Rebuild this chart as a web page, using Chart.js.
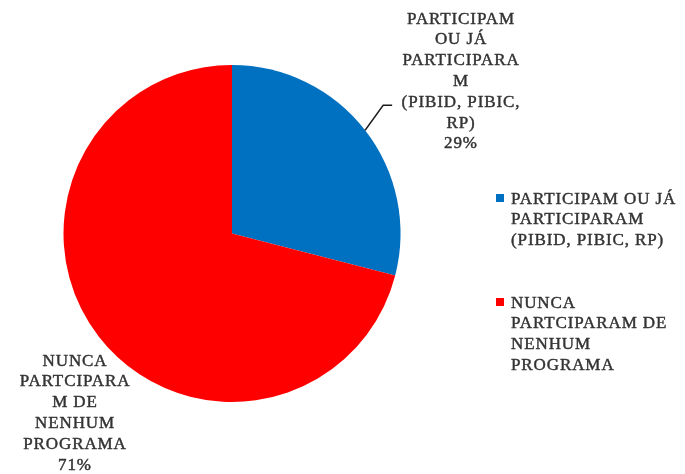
<!DOCTYPE html>
<html>
<head>
<meta charset="utf-8">
<script src="https://cdn.jsdelivr.net/npm/chart.js@4"></script>
<style>
  html, body { margin: 0; padding: 0; background: #fff; }
  #wrap { width: 685px; height: 474px; }
</style>
</head>
<body>
<div id="wrap"><canvas id="pieChart" width="685" height="474"></canvas></div>
<script>
// Participation in programs (PIBID, PIBIC, RP)
const categories = [
  "PARTICIPAM OU JÁ PARTICIPARAM (PIBID, PIBIC, RP)",
  "NUNCA PARTCIPARAM DE NENHUM PROGRAMA"
];
const percentages = [29, 71];
const sliceColors = ["#0070c0", "#ff0000"];

// line breaks used for the labels next to the slices
const sliceLabelLines = [
  ["PARTICIPAM", "OU JÁ", "PARTICIPARA", "M", "(PIBID, PIBIC,", "RP)"],
  ["NUNCA", "PARTCIPARA", "M DE", "NENHUM", "PROGRAMA"]
];
// line breaks used in the legend
const legendLines = [
  ["PARTICIPAM OU JÁ", "PARTICIPARAM", "(PIBID, PIBIC, RP)"],
  ["NUNCA", "PARTCIPARAM DE", "NENHUM", "PROGRAMA"]
];

const FONT = '17px "Liberation Serif", "Times New Roman", serif';
const TEXT_COLOR = "#333333";
const LINE_H = 20.8;

function setText(c) {
  c.font = FONT;
  c.fillStyle = TEXT_COLOR;
  c.strokeStyle = TEXT_COLOR;
  c.lineWidth = 0.45;
  c.textBaseline = "alphabetic";
  if ("letterSpacing" in c) c.letterSpacing = "0.9px";
}

// slightly heavier text, closer to the printed look
function drawText(c, t, x, y) {
  c.fillText(t, x, y);
  c.strokeText(t, x, y);
}

// labels outside the slices, with a leader line on the first one
const sliceLabels = {
  id: "sliceLabels",
  afterDatasetsDraw(chart, args, opts) {
    const c = chart.ctx;
    const meta = chart.getDatasetMeta(0);
    const values = chart.data.datasets[0].data;
    c.save();
    meta.data.forEach((arc, i) => {
      const pos = opts.positions[i];
      const lines = sliceLabelLines[i].concat([values[i] + "%"]);
      setText(c);
      c.textAlign = "center";
      lines.forEach((t, k) => {
        drawText(c, t, pos.x, pos.y + k * LINE_H + 5.5);
      });
      if (pos.leader) {
        const mid = (arc.startAngle + arc.endAngle) / 2;
        const sx = arc.x + Math.cos(mid) * arc.outerRadius;
        const sy = arc.y + Math.sin(mid) * arc.outerRadius;
        c.beginPath();
        c.strokeStyle = "#1a1a1a";
        c.lineWidth = 1.4;
        c.moveTo(sx, sy);
        c.lineTo(sx + pos.leader.dx, sy + pos.leader.dy);
        c.lineTo(sx + pos.leader.dx + pos.leader.tail, sy + pos.leader.dy);
        c.stroke();
      }
    });
    c.restore();
  }
};

// legend on the right with wrapped entries
const sideLegend = {
  id: "sideLegend",
  afterDraw(chart, args, opts) {
    const c = chart.ctx;
    const colors = chart.data.datasets[0].backgroundColor;
    c.save();
    legendLines.forEach((lines, i) => {
      const top = opts.y + i * opts.gap;
      c.fillStyle = colors[i];
      c.fillRect(opts.x, top - 4, 8, 8);
      setText(c);
      c.textAlign = "left";
      lines.forEach((t, k) => {
        drawText(c, t, opts.x + 15, top + k * LINE_H + 5.5);
      });
    });
    c.restore();
  }
};

const ctx = document.getElementById("pieChart").getContext("2d");
new Chart(ctx, {
  type: "pie",
  data: {
    labels: categories,
    datasets: [{
      data: percentages,
      backgroundColor: sliceColors,
      borderWidth: 0
    }]
  },
  options: {
    responsive: false,
    animation: false,
    layout: { padding: { left: 63, right: 284, top: 65, bottom: 72 } },
    plugins: {
      legend: { display: false },
      tooltip: { enabled: false },
      sliceLabels: {
        positions: [
          { x: 461, y: 18, leader: { dx: 18, dy: -25, tail: 9 } },
          { x: 75, y: 360 }
        ]
      },
      sideLegend: { x: 496, y: 198, gap: 104 }
    }
  },
  plugins: [sliceLabels, sideLegend]
});
</script>
</body>
</html>
